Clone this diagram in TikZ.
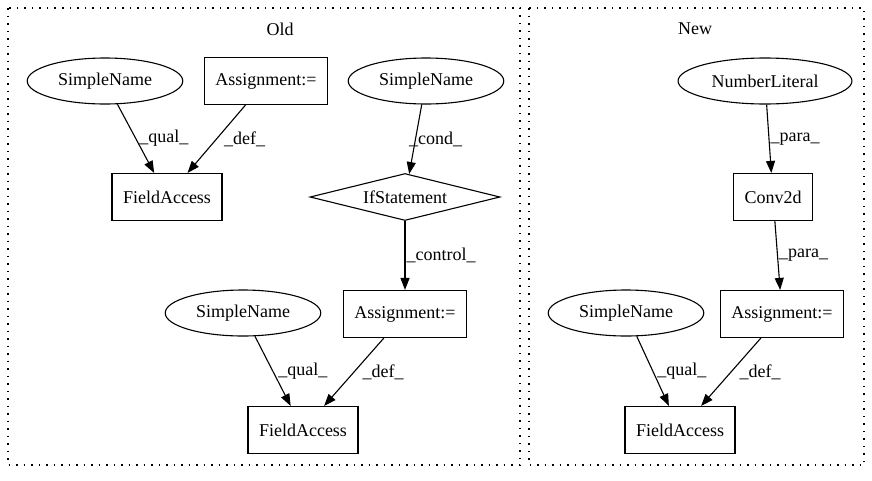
\documentclass[tikz,border=0pt]{standalone}
\usepackage{fontspec}
\setmainfont{Liberation Serif}
\usepackage{tikz}
\usetikzlibrary{arrows.meta,shapes.geometric,calc}

\tikzset{
  box/.style={draw, rectangle, line width=1.1pt, inner xsep=11pt, minimum height=47pt},
  oval/.style={draw, ellipse, line width=1.1pt, inner xsep=8pt, minimum height=46pt},
  cond/.style={draw, diamond, aspect=4, inner sep=0pt, line width=1.1pt, minimum width=190pt, minimum height=47pt},
  edge/.style={line width=1.1pt, -{Triangle[length=12pt,width=9pt]}},
  lbl/.style={anchor=west, inner sep=1pt},
  cluster/.style={line width=1.3pt, dash pattern=on 1.5pt off 6pt}
}

\begin{document}
\begin{tikzpicture}[x=1pt, y=-1pt, font=\fontsize{18}{21}\selectfont]
  \useasboundingbox (0,0) rectangle (872,480);
  % Clusters
  \draw[cluster] (8,8) rectangle (520,465);
  \draw[cluster] (529,8) rectangle (864,465);
  \node (oldlbl) at (280,29) {Old};
  \node (newlbl) at (695,29) {New};
  % Old nodes
  \node[oval] (sn1) at (105,81) {SimpleName};
  \node[box] (asg1) at (266,81) {Assignment:=};
  \node[oval] (sn2) at (426,81) {SimpleName};
  \node[box] (fa1) at (167,197) {FieldAccess};
  \node[cond] (ifst) at (405,197) {IfStatement};
  \node[box] (asg2) at (405,314) {Assignment:=};
  \node[oval] (sn3) at (243,313) {SimpleName};
  \node[box] (fa2) at (303,430) {FieldAccess};
  % New nodes
  \node[oval] (numlit) at (765,81) {NumberLiteral};
  \node[box] (conv) at (773,197) {Conv2d};
  \node[box] (asg3) at (782,314) {Assignment:=};
  \node[oval] (sn4) at (626,313) {SimpleName};
  \node[box] (fa3) at (680,430) {FieldAccess};
  % Edges
  \draw[edge] (sn1) -- node[lbl, xshift=2pt] {\_qual\_} (fa1);
  \draw[edge] (asg1) -- node[lbl, xshift=6pt] {\_def\_} (fa1);
  \draw[edge] (sn2) -- node[lbl, xshift=-8pt] {\_cond\_} (ifst);
  \draw[edge] (ifst) -- node[lbl] {\_control\_} (asg2);
  \draw[edge] (sn3) -- node[lbl, xshift=4pt] {\_qual\_} (fa2);
  \draw[edge] (asg2) -- node[lbl, xshift=7pt] {\_def\_} (fa2);
  \draw[edge] (numlit) -- node[lbl] {\_para\_} (conv);
  \draw[edge] (conv) -- node[lbl] {\_para\_} (asg3);
  \draw[edge] (sn4) -- node[lbl, xshift=3pt] {\_qual\_} (fa3);
  \draw[edge] (asg3) -- node[lbl, xshift=7pt] {\_def\_} (fa3);
\end{tikzpicture}
\end{document}
